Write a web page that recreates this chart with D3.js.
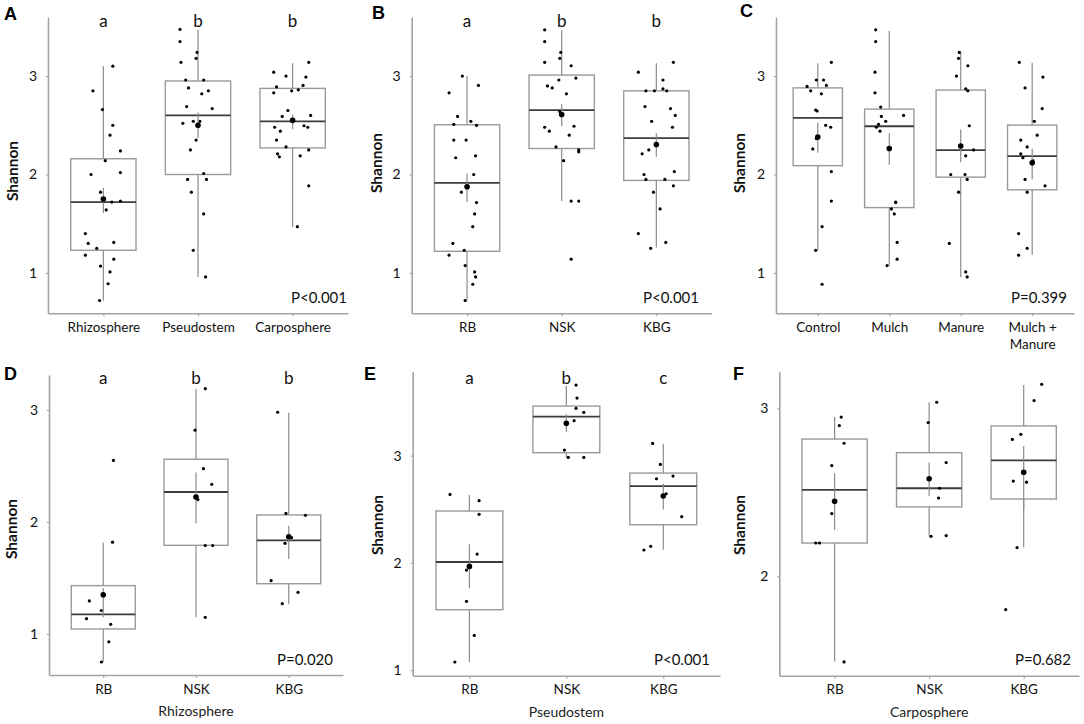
<!DOCTYPE html>
<html><head><meta charset="utf-8">
<script src="https://cdn.jsdelivr.net/npm/d3@7"></script>
<style>body{margin:0;background:#fff}svg{display:block}</style>
</head><body><svg id="chart" width="1084" height="724"></svg>
<script>
// ---------- DATA ----------
// box stats per category: [whiskerLow, Q1, median, Q3, whiskerHigh, mean, meanSElow, meanSEhigh]
// points per category: [jitter (fraction of category step), Shannon value]
const catsA = ["Rhizosphere", "Pseudostem", "Carposphere"];
const boxA = [
  [0.72, 1.23, 1.72, 2.16, 3.10, 1.75, 1.61, 1.865],
  [0.96, 2.00, 2.60, 2.95, 3.47, 2.50, 2.37, 2.63],
  [1.47, 2.27, 2.54, 2.875, 3.13, 2.55, 2.46, 2.61]
];
const ptsA = [
  [[0.10,3.10],[-0.11,2.85],[-0.01,2.66],[0.10,2.50],[0.07,2.40],[0.18,2.24],[0.02,2.14],[-0.13,2.00],[0.18,2.02],[-0.03,1.82],[0.09,1.72],[0.18,1.73],[0.03,1.64],[-0.19,1.40],[-0.16,1.30],[0.11,1.31],[-0.07,1.25],[-0.19,1.18],[0.11,1.14],[-0.03,1.07],[0.07,1.01],[0.05,0.89],[-0.04,0.72]],
  [[-0.19,3.475],[-0.19,3.35],[-0.01,3.24],[-0.02,3.18],[-0.18,3.14],[-0.13,2.96],[0.06,2.96],[-0.10,2.88],[0.11,2.85],[0.04,2.82],[-0.12,2.69],[0.15,2.67],[-0.16,2.52],[-0.05,2.54],[0.02,2.54],[-0.02,2.35],[-0.08,2.25],[0.06,2.01],[-0.11,1.95],[0.09,1.95],[-0.07,1.82],[0.06,1.60],[-0.05,1.23],[0.08,0.96]],
  [[-0.20,3.04],[0.17,3.14],[-0.07,3.00],[0.14,2.99],[0.11,2.905],[-0.17,2.89],[0.06,2.86],[-0.01,2.85],[-0.20,2.83],[-0.05,2.65],[-0.11,2.59],[0.19,2.60],[-0.19,2.48],[0.12,2.495],[0.16,2.48],[-0.13,2.44],[-0.17,2.35],[-0.07,2.28],[-0.16,2.21],[-0.14,2.18],[0.08,2.19],[0.17,2.25],[0.17,1.885],[0.05,1.47]]
];
const lettersA = ["a", "b", "b"];
const pA = "P<0.001";

const catsB = ["RB", "NSK", "KBG"];
const boxB = [
  [0.72, 1.22, 1.915, 2.505, 3.00, 1.875, 1.72, 2.01],
  [1.73, 2.264, 2.654, 3.01, 3.468, 2.61, 2.49, 2.72],
  [1.258, 1.94, 2.37, 2.85, 3.13, 2.305, 2.18, 2.42]
];
const ptsB = [
  [[-0.05,3.00],[0.12,2.905],[-0.19,2.83],[-0.10,2.59],[-0.14,2.51],[0.10,2.50],[0.04,2.54],[-0.14,2.35],[-0.01,2.35],[-0.12,2.17],[0.09,2.19],[0.07,2.00],[-0.06,1.82],[0.10,1.715],[0.08,1.60],[0.06,1.47],[-0.15,1.30],[-0.03,1.23],[-0.19,1.18],[-0.02,1.075],[0.08,1.01],[0.09,0.96],[0.06,0.885],[-0.02,0.72]],
  [[-0.18,3.47],[-0.18,3.35],[-0.01,3.24],[-0.02,3.18],[-0.18,3.14],[0.10,3.105],[0.15,2.98],[-0.03,2.96],[-0.15,2.90],[-0.10,2.88],[0.05,2.82],[-0.02,2.64],[-0.18,2.48],[0.13,2.49],[-0.13,2.44],[0.08,2.40],[-0.06,2.28],[0.18,2.25],[0.18,2.23],[0.02,2.14],[0.10,1.73],[0.18,1.73],[0.10,1.14]],
  [[-0.19,3.04],[0.18,3.14],[0.07,2.96],[0.07,2.87],[0.11,2.85],[-0.11,2.85],[-0.02,2.85],[-0.12,2.69],[0.15,2.67],[0.20,2.60],[-0.05,2.54],[0.17,2.48],[-0.08,2.25],[-0.15,2.21],[-0.13,2.00],[-0.11,1.95],[0.09,1.95],[0.19,2.03],[0.18,1.885],[-0.03,1.82],[0.04,1.65],[-0.19,1.40],[0.10,1.31],[-0.06,1.25]]
];
const lettersB = ["a", "b", "b"];
const pB = "P<0.001";

const catsC = ["Control", "Mulch", "Manure", "Mulch + Manure"];
const boxC = [
  [1.227, 2.09, 2.576, 2.88, 3.13, 2.38, 2.22, 2.525],
  [1.075, 1.664, 2.49, 2.664, 3.46, 2.264, 2.10, 2.42],
  [0.96, 1.973, 2.247, 2.858, 3.247, 2.29, 2.125, 2.458],
  [1.186, 1.844, 2.186, 2.502, 3.136, 2.12, 1.953, 2.261]
];
const ptsC = [
  [[0.19,3.14],[-0.15,2.895],[-0.02,2.96],[0.08,2.96],[0.12,2.905],[-0.10,2.85],[0.05,2.82],[-0.03,2.655],[-0.01,2.645],[0.11,2.50],[0.18,2.48],[-0.02,2.365],[-0.07,2.26],[0.19,2.03],[0.19,1.73],[0.06,1.47],[-0.03,1.23],[0.06,0.885]],
  [[-0.19,3.47],[-0.19,3.35],[-0.20,3.04],[-0.20,2.83],[-0.12,2.685],[-0.11,2.59],[-0.05,2.54],[0.20,2.60],[-0.15,2.51],[-0.18,2.48],[-0.13,2.44],[0.09,1.72],[0.09,1.715],[0.03,1.65],[0.07,1.60],[0.11,1.31],[0.11,1.14],[-0.03,1.075]],
  [[-0.02,3.24],[-0.03,3.18],[0.10,3.105],[-0.06,3.00],[0.07,2.87],[0.10,2.85],[0.12,2.495],[0.07,2.19],[0.18,2.25],[-0.14,2.00],[0.06,2.00],[0.09,1.95],[-0.03,1.82],[-0.16,1.30],[0.07,1.01],[0.09,0.96]],
  [[-0.18,3.14],[0.15,2.99],[-0.10,2.88],[0.14,2.67],[0.03,2.54],[0.07,2.40],[-0.16,2.35],[-0.07,2.28],[-0.16,2.21],[-0.13,2.17],[0.01,2.14],[-0.10,1.95],[0.18,1.885],[-0.07,1.82],[-0.19,1.40],[-0.07,1.25],[-0.19,1.18]]
];
const lettersC = [];
const pC = "P=0.399";

const catsD = ["RB", "NSK", "KBG"];
const boxD = [
  [0.75, 1.045, 1.176, 1.432, 1.818, 1.351, 1.15, 1.41],
  [1.149, 1.792, 2.268, 2.56, 3.188, 2.223, 1.988, 2.443],
  [1.265, 1.449, 1.836, 2.063, 2.976, 1.869, 1.67, 1.967]
];
const ptsD = [
  [[0.11,2.55],[0.10,1.82],[-0.15,1.295],[-0.02,1.21],[-0.18,1.137],[0.08,1.086],[0.06,0.93],[-0.02,0.75]],
  [[0.10,3.19],[-0.01,2.82],[0.08,2.476],[0.17,2.336],[0.02,2.20],[0.10,1.79],[0.18,1.79],[0.10,1.149]],
  [[-0.12,2.98],[-0.03,2.077],[0.18,2.06],[0.03,1.86],[-0.04,1.81],[-0.19,1.476],[0.10,1.372],[-0.07,1.271]]
];
const lettersD = ["a", "b", "b"];
const pD = "P=0.020";
const titleD = "Rhizosphere";

const catsE = ["RB", "NSK", "KBG"];
const boxE = [
  [1.075, 1.563, 2.008, 2.484, 2.633, 1.967, 1.762, 2.173],
  [2.984, 3.028, 3.364, 3.463, 3.653, 3.302, 3.218, 3.386],
  [2.123, 2.356, 2.717, 2.838, 3.109, 2.624, 2.499, 2.739]
];
const ptsE = [
  [[-0.20,2.639],[0.10,2.58],[0.10,2.453],[0.08,2.082],[-0.03,1.933],[-0.03,1.641],[0.05,1.323],[-0.15,1.075]],
  [[0.10,3.659],[0.11,3.538],[0.10,3.442],[0.18,3.404],[0.08,3.327],[-0.02,3.053],[0.02,2.984],[0.18,2.984]],
  [[-0.11,3.115],[-0.03,2.919],[-0.07,2.785],[0.10,2.81],[0.03,2.645],[0.19,2.431],[-0.13,2.154],[-0.20,2.12]]
];
const lettersE = ["a", "b", "c"];
const pE = "P<0.001";
const titleE = "Pseudostem";

const catsF = ["RB", "NSK", "KBG"];
const boxF = [
  [1.492, 2.198, 2.514, 2.817, 2.948, 2.446, 2.276, 2.613],
  [2.238, 2.413, 2.524, 2.736, 3.036, 2.581, 2.476, 2.677],
  [2.173, 2.46, 2.69, 2.895, 3.139, 2.619, 2.397, 2.776]
];
const ptsF = [
  [[0.07,2.948],[0.05,2.897],[0.10,2.792],[-0.03,2.659],[-0.03,2.373],[-0.20,2.198],[-0.16,2.198],[0.10,1.49]],
  [[0.08,3.036],[-0.01,2.915],[0.18,2.677],[0.11,2.524],[0.10,2.466],[0.02,2.238],[0.18,2.242]],
  [[0.19,3.143],[0.11,3.046],[-0.12,2.815],[-0.03,2.845],[-0.11,2.567],[0.03,2.56],[-0.07,2.171],[-0.19,1.802]]
];
const lettersF = [];
const pF = "P=0.682";
const titleF = "Carposphere";

const ticksTop = [1, 2, 3];
const ticksD = [1, 2, 3];
const ticksE = [1, 2, 3];
const ticksF = [2, 3];
const yDomainTop = [0.59, 3.6];
const yDomainD = [0.634, 3.3125];
const yDomainE = [0.947, 3.784];
const yDomainF = [1.408, 3.218];
const yLabel = "Shannon";

// ---------- LAYOUT ----------
const FONT = "Lato, 'Open Sans', sans-serif";
const panels = [
  {id:"A", cats:catsA, box:boxA, pts:ptsA, letters:lettersA, p:pA, ticks:ticksTop, dom:yDomainTop,
   x0:48, x1:348, yTop:17, yBot:313.3, idX:4, idY:19.5, ylX:18.3, ylY:171, pX:347, pY:303.3, letY:26.5},
  {id:"B", cats:catsB, box:boxB, pts:ptsB, letters:lettersB, p:pB, ticks:ticksTop, dom:yDomainTop,
   x0:411.7, x1:711.7, yTop:17, yBot:313.3, idX:372, idY:18.5, ylX:381.7, ylY:163, pX:699, pY:303.3, letY:26.5},
  {id:"C", cats:catsC, box:boxC, pts:ptsC, letters:lettersC, p:pC, ticks:ticksTop, dom:yDomainTop,
   x0:776, x1:1074, yTop:17, yBot:313.3, idX:740, idY:17, ylX:745, ylY:163, pX:1067, pY:303.3, letY:26.5},
  {id:"D", cats:catsD, box:boxD, pts:ptsD, letters:lettersD, p:pD, ticks:ticksD, dom:yDomainD, title:titleD,
   x0:49, x1:343, yTop:375, yBot:675, idX:4, idY:380, ylX:16.7, ylY:529, pX:333, pY:664.5, letY:383.5},
  {id:"E", cats:catsE, box:boxE, pts:ptsE, letters:lettersE, p:pE, ticks:ticksE, dom:yDomainE, title:titleE,
   x0:412.7, x1:720, yTop:371.7, yBot:675.7, idX:364, idY:380, ylX:382.7, ylY:525, pX:710, pY:664.5, letY:384},
  {id:"F", cats:catsF, box:boxF, pts:ptsF, letters:lettersF, p:pF, ticks:ticksF, dom:yDomainF, title:titleF,
   x0:779.3, x1:1079, yTop:371.7, yBot:675.7, idX:733, idY:380, ylX:745, ylY:525, pX:1071, pY:664.5, letY:384}
];

const svg = d3.select("#chart");
svg.append("rect").attr("width",1084).attr("height",724).attr("fill","#fff");

const AXIS_COL = "#a3a3a3", BOX_COL = "#9a9a9a", WHISK_COL = "#8c8c8c", MED_COL = "#3c3c3c";

panels.forEach(cfg => {
  const g = svg.append("g");
  const x = d3.scalePoint().domain(cfg.cats).range([cfg.x0, cfg.x1]).padding(0.585);
  const y = d3.scaleLinear().domain(cfg.dom).range([cfg.yBot, cfg.yTop]);
  const step = x.step();
  const bw = step * 0.69;

  // y axis
  const ya = g.append("g").attr("transform", `translate(${cfg.x0},0)`)
    .call(d3.axisLeft(y).tickValues(cfg.ticks).tickFormat(d3.format("d")).tickSize(2).tickSizeOuter(0).tickPadding(9));
  // x axis
  const xa = g.append("g").attr("transform", `translate(0,${cfg.yBot})`)
    .call(d3.axisBottom(x).tickSize(3).tickSizeOuter(0));
  [ya, xa].forEach(a => {
    a.select(".domain").attr("stroke", AXIS_COL).attr("stroke-width", 1.6);
    a.selectAll(".tick line").attr("stroke", AXIS_COL).attr("stroke-width", 1.2);
    a.selectAll("text").attr("fill", "#111").style("font-family", FONT).style("font-size", "14px");
  });
  ya.selectAll("text").attr("x", -11);
  xa.selectAll("text").attr("y", 18.7).attr("dy", 0).style("font-size", "13.5px")
    .each(function(d) {
      if (d === "Mulch + Manure") {
        const t = d3.select(this).text("");
        t.append("tspan").attr("x", 0).attr("dy", 0).text("Mulch +");
        t.append("tspan").attr("x", 0).attr("dy", 17).text("Manure");
      }
    });

  // boxes
  cfg.cats.forEach((c, i) => {
    const [lo, q1, med, q3, hi, mean, seLo, seHi] = cfg.box[i];
    const cx = x(c);
    g.append("line").attr("x1", cx).attr("x2", cx).attr("y1", y(hi)).attr("y2", y(q3))
      .attr("stroke", WHISK_COL).attr("stroke-width", 1.2);
    g.append("line").attr("x1", cx).attr("x2", cx).attr("y1", y(q1)).attr("y2", y(lo))
      .attr("stroke", WHISK_COL).attr("stroke-width", 1.2);
    g.append("rect").attr("x", cx - bw/2).attr("width", bw)
      .attr("y", y(q3)).attr("height", y(q1) - y(q3))
      .attr("fill", "#fff").attr("stroke", BOX_COL).attr("stroke-width", 1.4);
    g.append("line").attr("x1", cx - bw/2).attr("x2", cx + bw/2).attr("y1", y(med)).attr("y2", y(med))
      .attr("stroke", MED_COL).attr("stroke-width", 1.8);
    // points
    g.selectAll(null).data(cfg.pts[i]).enter().append("circle")
      .attr("cx", d => cx + d[0]*step).attr("cy", d => y(d[1])).attr("r", 1.6).attr("fill", "#000");
    // mean +- SE
    g.append("line").attr("x1", cx).attr("x2", cx).attr("y1", y(seHi)).attr("y2", y(seLo))
      .attr("stroke", WHISK_COL).attr("stroke-width", 1.2);
    g.append("circle").attr("cx", cx).attr("cy", y(mean)).attr("r", 2.8).attr("fill", "#000");
  });

  // significance letters
  cfg.letters.forEach((l, i) => {
    g.append("text").attr("x", x(cfg.cats[i])).attr("y", cfg.letY).attr("text-anchor", "middle")
      .style("font-family", FONT).style("font-size", "17px").attr("fill", "#111").text(l);
  });

  // p-value
  g.append("text").attr("x", cfg.pX).attr("y", cfg.pY).attr("text-anchor", "end")
    .style("font-family", FONT).style("font-size", "15px").attr("fill", "#111").text(cfg.p);

  // y label
  g.append("text").attr("transform", `translate(${cfg.ylX},${cfg.ylY}) rotate(-90)`)
    .attr("text-anchor", "middle").style("font-family", FONT).style("font-size", "15.5px")
    .style("font-weight", "bold").attr("fill", "#111").text(yLabel);

  // panel id
  g.append("text").attr("x", cfg.idX).attr("y", cfg.idY)
    .style("font-family", "'Liberation Sans', Arial, sans-serif").style("font-size", "18px")
    .style("font-weight", "bold").attr("fill", "#000").text(cfg.id);

  // x title
  if (cfg.title) {
    g.append("text").attr("x", x(cfg.cats[1])).attr("y", cfg.yBot + 41).attr("text-anchor", "middle")
      .style("font-family", FONT).style("font-size", "14px").attr("fill", "#222").text(cfg.title);
  }
});
</script>
</body></html>
